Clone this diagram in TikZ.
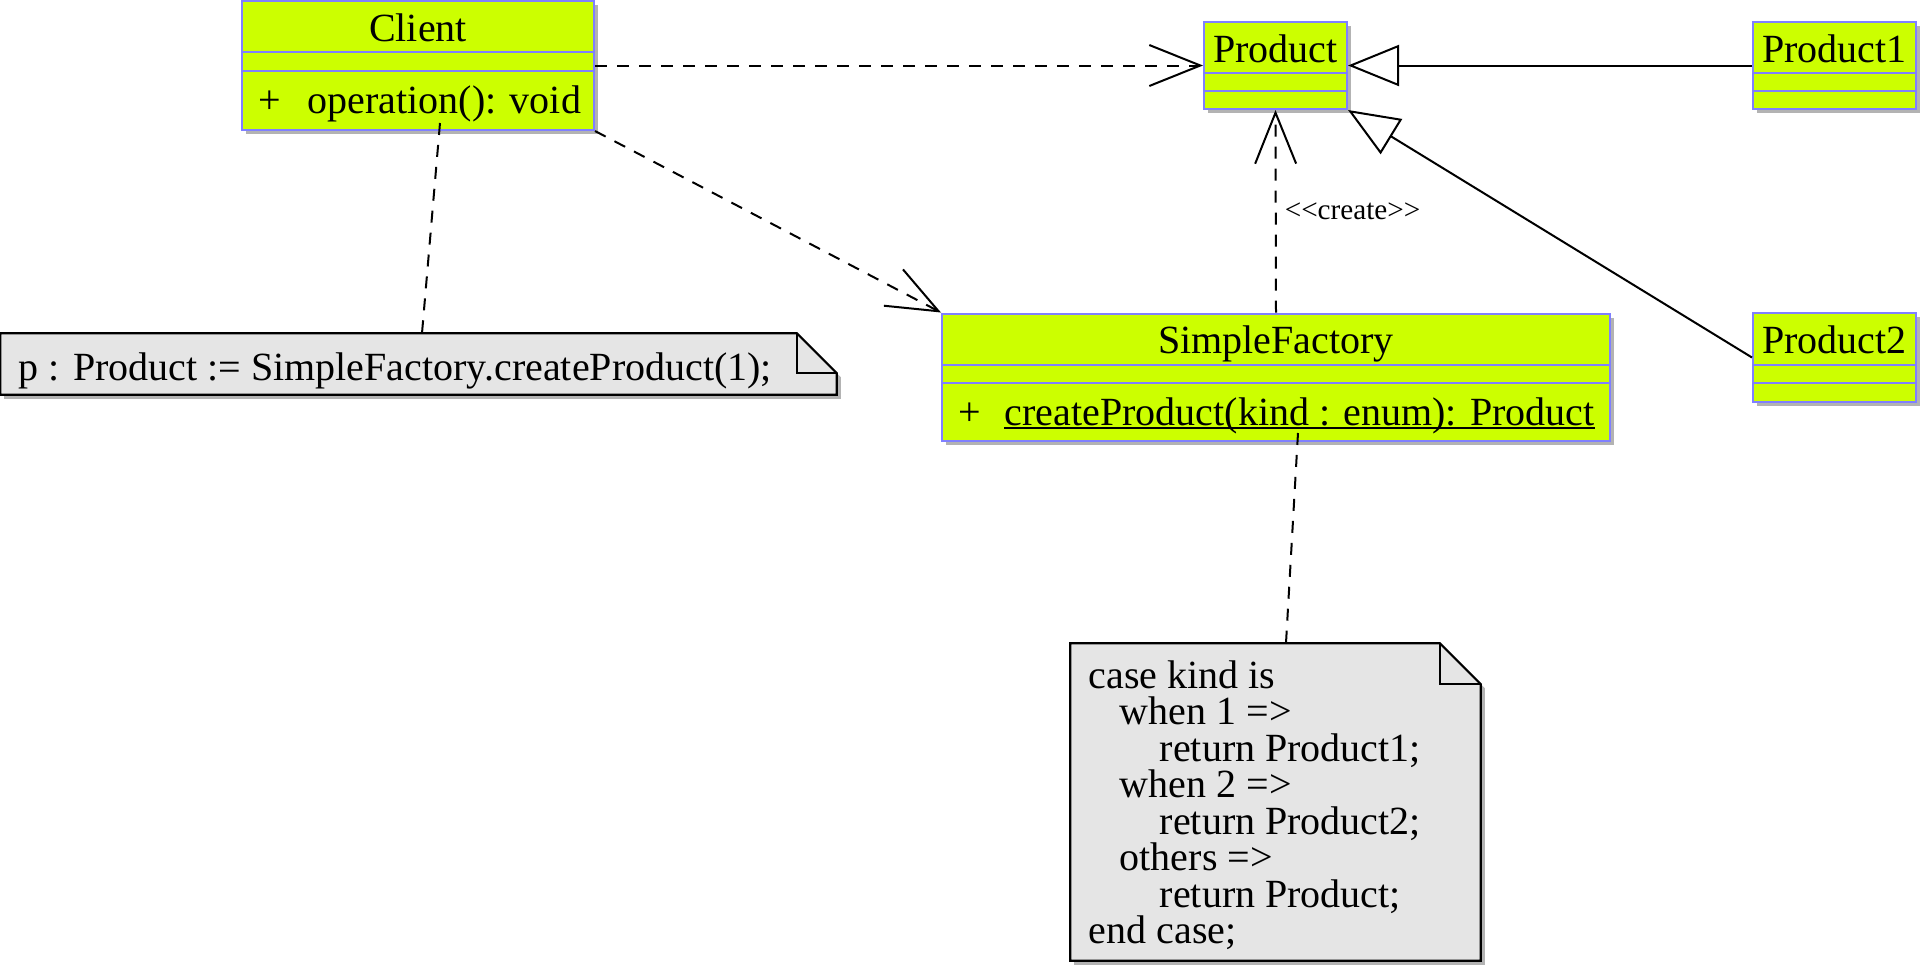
\documentclass[tikz,border=0pt]{standalone}
\usepackage{fontspec}
\setmainfont{Liberation Serif}
\usetikzlibrary{arrows.meta,shadows,fit,calc}
\definecolor{classfill}{HTML}{CCFF00}
\definecolor{classborder}{HTML}{8080FF}
\definecolor{shadowc}{HTML}{B3B3B3}
\definecolor{notefill}{HTML}{E5E5E5}
\begin{document}
\begin{tikzpicture}[x=0.25pt,y=-0.25pt,
  every node/.style={font=\fontsize{10}{9.125}\selectfont},
  classbox/.style={fill=classfill, draw=classborder, line width=0.5pt, inner sep=0pt,
    drop shadow={shadow xshift=1pt, shadow yshift=-1pt, fill=shadowc, opacity=1}},
  sepline/.style={draw=classborder, line width=0.5pt},
  txt/.style={inner sep=0pt, anchor=base},
  ltxt/.style={inner sep=0pt, anchor=base west},
  notearea/.style={inner sep=0pt, draw=none},
  noteline/.style={draw=black, line width=0.55pt, fill=notefill},
  dep/.style={draw=black, line width=0.5pt, dash pattern=on 3pt off 2.5pt,
    -{Straight Barb[length=12.75pt, width=10.25pt]}},
  gen/.style={draw=black, line width=0.5pt,
    -{Triangle[open, length=12.75pt, width=10.25pt, fill=white]}},
  anchorline/.style={draw=black, line width=0.5pt, dash pattern=on 3pt off 2.5pt},
  ]
\useasboundingbox (0,0) rectangle (1920,965);

% ---------- Client ----------
\node[classbox, fit={(242,1) (594,130)}] (client) {};
\draw[sepline] (client.west |- 0,52) -- (client.east |- 0,52);
\draw[sepline] (client.west |- 0,71) -- (client.east |- 0,71);
\node[txt] (clientname) at (418,41) {Client};
\node[ltxt] (clientplus) at (258,113) {+};
\node[ltxt] (clientop) at (307,113) {operation(): void};

% ---------- Product ----------
\node[classbox, fit={(1204,22) (1347,109)}] (product) {};
\draw[sepline] (product.west |- 0,73) -- (product.east |- 0,73);
\draw[sepline] (product.west |- 0,91) -- (product.east |- 0,91);
\node[txt] (productname) at (1275.5,62) {Product};

% ---------- Product1 ----------
\node[classbox, fit={(1753,22) (1916,109)}] (product1) {};
\draw[sepline] (product1.west |- 0,73) -- (product1.east |- 0,73);
\draw[sepline] (product1.west |- 0,91) -- (product1.east |- 0,91);
\node[txt] (product1name) at (1834.5,62) {Product1};

% ---------- Product2 ----------
\node[classbox, fit={(1753,313) (1916,402)}] (product2) {};
\draw[sepline] (product2.west |- 0,365) -- (product2.east |- 0,365);
\draw[sepline] (product2.west |- 0,383) -- (product2.east |- 0,383);
\node[txt] (product2name) at (1834.5,353) {Product2};

% ---------- SimpleFactory ----------
\node[classbox, fit={(942,313.5) (1610,441)}] (sf) {};
\draw[sepline] (sf.west |- 0,365) -- (sf.east |- 0,365);
\draw[sepline] (sf.west |- 0,383) -- (sf.east |- 0,383);
\node[txt] (sfname) at (1276,353) {SimpleFactory};
\node[ltxt] (sfplus) at (958,425) {+};
\node[ltxt] (sfop) at (1004,425) {createProduct(kind : enum): Product};
\draw[line width=0.35pt] ($(sfop.base west)+(0,3)$) -- ($(sfop.base east)+(0,3)$);

% ---------- Note 1 ----------
\node[notearea, fit={(1,334) (836,394)}] (note1) {};
\fill[shadowc] ($(note1.north west)+(4,4)$) -- ($(note1.north east)+(-36,4)$)
  -- ($(note1.north east)+(4,44)$) -- ($(note1.south east)+(4,4)$)
  -- ($(note1.south west)+(4,4)$) -- cycle;
\path[noteline] (note1.north west) -- ($(note1.north east)+(-40,0)$)
  -- ($(note1.north east)+(0,40)$) -- (note1.south east) -- (note1.south west) -- cycle;
\draw[line width=0.55pt] ($(note1.north east)+(-40,0)$) -- ($(note1.north east)+(-40,40)$)
  -- ($(note1.north east)+(0,40)$);
\node[ltxt] (note1text) at (18,380) {p : Product := SimpleFactory.createProduct(1);};

% ---------- Note 2 ----------
\node[notearea, fit={(1071,644) (1480,960)}] (note2) {};
\fill[shadowc] ($(note2.north west)+(4,4)$) -- ($(note2.north east)+(-37,4)$)
  -- ($(note2.north east)+(4,45)$) -- ($(note2.south east)+(4,4)$)
  -- ($(note2.south west)+(4,4)$) -- cycle;
\path[noteline] (note2.north west) -- ($(note2.north east)+(-41,0)$)
  -- ($(note2.north east)+(0,41)$) -- (note2.south east) -- (note2.south west) -- cycle;
\draw[line width=0.55pt] ($(note2.north east)+(-41,0)$) -- ($(note2.north east)+(-41,41)$)
  -- ($(note2.north east)+(0,41)$);
\node[ltxt, align=left] (note2text) at (1088,943.5) {case kind is\\
\hspace*{7.75pt}when 1 =>\\
\hspace*{17.75pt}return Product1;\\
\hspace*{7.75pt}when 2 =>\\
\hspace*{17.75pt}return Product2;\\
\hspace*{7.75pt}others =>\\
\hspace*{17.75pt}return Product;\\
end case;};

% ---------- Connectors ----------
\draw[dep] (client.east) -- (product.west);
\draw[dep] (client.south east) -- (sf.north west);
\draw[dep] (sf.north) -- (product.south);
\node[ltxt, font=\fontsize{7.3}{8}\selectfont] (createlbl) at (1284,219) {<\kern0pt<create>\kern0pt>};
\draw[gen] (product1.west) -- (product.east);
\draw[gen] (product2.west) -- (product.south east);
\draw[anchorline] ($(client.south -| 440,0)+(0,-8)$) -- (note1.north -| 422,0);
\draw[anchorline] ($(sf.south -| 1298,0)+(0,-9)$) -- (note2.north -| 1286,0);
\end{tikzpicture}
\end{document}
